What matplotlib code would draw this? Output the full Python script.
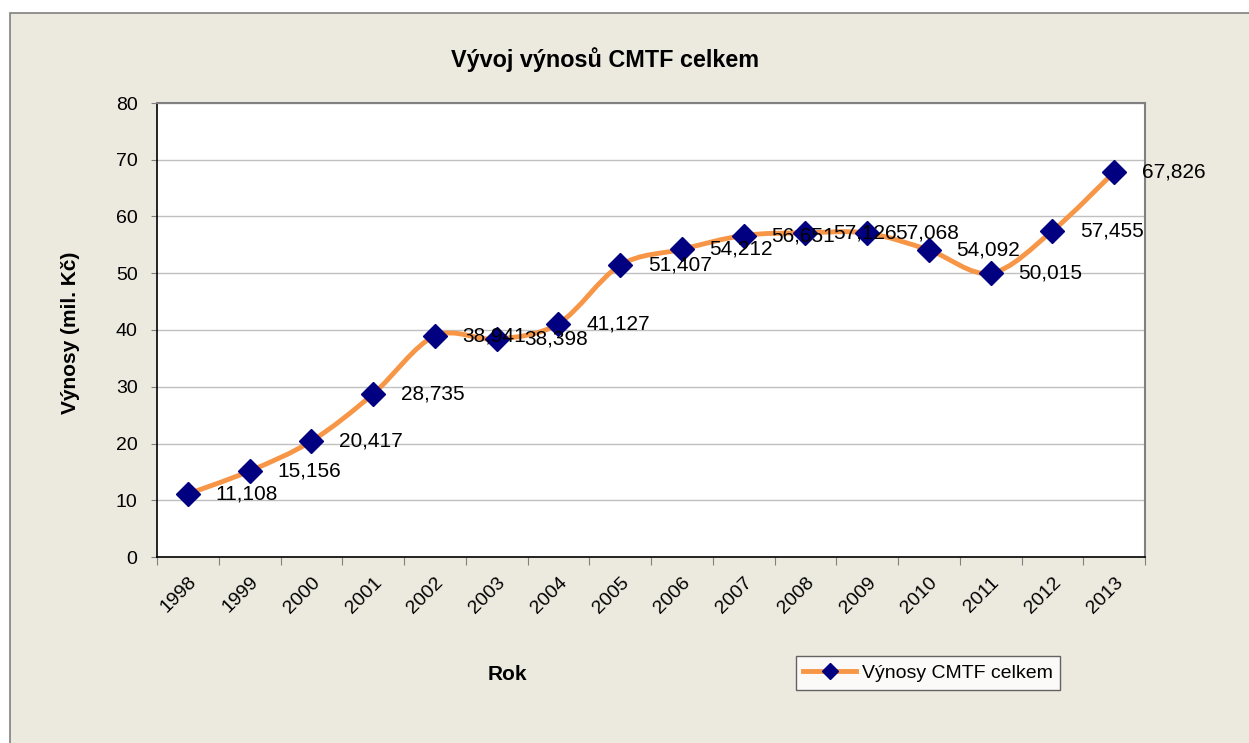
import matplotlib
matplotlib.use('Agg')
import matplotlib.pyplot as plt
from matplotlib.path import Path
from matplotlib.patches import PathPatch, Rectangle
from matplotlib.lines import Line2D
import numpy as np

plt.rcParams['font.family'] = ['Liberation Sans', 'DejaVu Sans']

roky = ['1998', '1999', '2000', '2001', '2002', '2003', '2004', '2005',
        '2006', '2007', '2008', '2009', '2010', '2011', '2012', '2013']
vynosy = [11.108, 15.156, 20.417, 28.735, 38.941, 38.398, 41.127, 51.407,
          54.212, 56.651, 57.126, 57.068, 54.092, 50.015, 57.455, 67.826]
popisky = ['11,108', '15,156', '20,417', '28,735', '38,941', '38,398', '41,127', '51,407',
           '54,212', '56,651', '57,126', '57,068', '54,092', '50,015', '57,455', '67,826']

bg = '#ECE9DF'
oranzova = '#F79646'
modra = '#000080'

fig = plt.figure(figsize=(12.49, 7.43), dpi=100)
fig.patch.set_facecolor('white')
# ramecek grafu
fig.patches.append(Rectangle((10 / 1249, -0.01), 1.02, 1 - 13 / 743 + 0.01,
                             transform=fig.transFigure, facecolor=bg,
                             edgecolor='#808080', linewidth=1.2, zorder=-10))

ax = fig.add_axes([157 / 1249, 1 - 557 / 743, 988 / 1249, 454 / 743])
ax.set_facecolor('white')

x = np.arange(len(vynosy))
y = np.array(vynosy)

# vyhlazena cara (Bezier jako v Excelu)
verts = [(x[0], y[0])]
codes = [Path.MOVETO]
n = len(x)
for i in range(n - 1):
    p0 = (x[max(i - 1, 0)], y[max(i - 1, 0)])
    p1 = (x[i], y[i])
    p2 = (x[i + 1], y[i + 1])
    p3 = (x[min(i + 2, n - 1)], y[min(i + 2, n - 1)])
    c1 = (p1[0] + (p2[0] - p0[0]) / 6, p1[1] + (p2[1] - p0[1]) / 6)
    c2 = (p2[0] - (p3[0] - p1[0]) / 6, p2[1] - (p3[1] - p1[1]) / 6)
    verts += [c1, c2, p2]
    codes += [Path.CURVE4] * 3
ax.add_patch(PathPatch(Path(verts, codes), facecolor='none', edgecolor=oranzova,
                       linewidth=3.5, zorder=3, capstyle='round', joinstyle='round'))
ax.plot(x, y, linestyle='none', marker='D', markersize=12, color=modra, zorder=4)

for xi, yi, t in zip(x, y, popisky):
    ax.annotate(t, (xi, yi), xytext=(20, 0), textcoords='offset points',
                ha='left', va='center', fontsize=15, color='black', zorder=5,
                annotation_clip=False)

ax.set_xlim(-0.5, n - 0.5)
ax.set_ylim(0, 80)
ax.set_yticks(range(0, 81, 10))
ax.yaxis.grid(True, color='#C0C0C0', linewidth=1)
ax.set_axisbelow(True)
ax.tick_params(axis='y', labelsize=14, length=4, color='#808080', pad=10)

ax.set_xticks(np.arange(-0.5, n, 1), minor=False)
ax.set_xticklabels([])
ax.set_xticks(x, minor=True)
ax.set_xticklabels(roky, minor=True, rotation=45, ha='right', va='top',
                   rotation_mode='anchor', fontsize=14)
ax.tick_params(axis='x', which='major', length=6, color='#808080')
ax.tick_params(axis='x', which='minor', length=0, pad=12)

for s in ['top', 'right']:
    ax.spines[s].set_color('#808080')
    ax.spines[s].set_linewidth(1.5)
for s in ['left', 'bottom']:
    ax.spines[s].set_color('black')
    ax.spines[s].set_linewidth(1.2)

fig.text(605 / 1249, 1 - 60 / 743, 'Vývoj výnosů CMTF celkem', ha='center', va='center',
         fontsize=16.8, fontweight='bold')
fig.text(70 / 1249, 1 - 333 / 743, 'Výnosy (mil. Kč)', ha='center', va='center',
         rotation=90, fontsize=15, fontweight='bold')
fig.text(507 / 1249, 1 - 674 / 743, 'Rok', ha='center', va='center',
         fontsize=15, fontweight='bold')

handle = Line2D([], [], color=oranzova, linewidth=3.5, marker='D', markersize=8,
                markerfacecolor=modra, markeredgecolor=modra)
leg = fig.legend([handle], ['Výnosy CMTF celkem'], loc='center',
                 bbox_to_anchor=(928 / 1249, 1 - 673 / 743), fontsize=14,
                 frameon=True, fancybox=False, edgecolor='#404040',
                 handlelength=2.7, handletextpad=0.3, borderpad=0.4)
leg.get_frame().set_linewidth(1)

fig.savefig('out.png', dpi=100, facecolor=fig.get_facecolor())
